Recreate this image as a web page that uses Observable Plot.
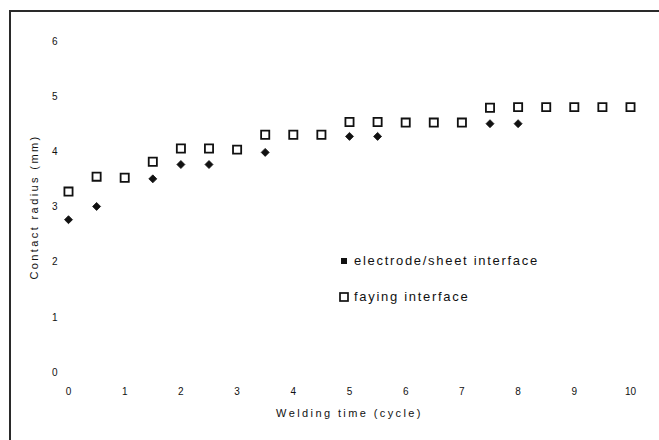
<!DOCTYPE html>
<html>
<head>
<meta charset="utf-8">
<script src="https://cdn.jsdelivr.net/npm/d3@7"></script>
<script src="https://cdn.jsdelivr.net/npm/@observablehq/plot@0.6"></script>
<style>
  html, body { margin: 0; padding: 0; background: #fff; }
  #wrap { position: relative; width: 659px; height: 440px; overflow: hidden; font-family: "Liberation Sans", Arial, sans-serif; }
  #frame { position: absolute; left: 9px; top: 10px; width: 700px; height: 500px; border-left: 2.5px solid #2a2a2a; border-top: 2.5px solid #2a2a2a; }
  #chart { position: absolute; left: 0; top: 0; }
  .leg { position: absolute; font-size: 13px; letter-spacing: 1.7px; color: #111; white-space: nowrap; }
  .leg svg { position: absolute; left: -15px; top: 3px; }
</style>
</head>
<body>
<div id="wrap">
  <div id="frame"></div>
  <div id="chart"></div>
</div>
<script>
// Welding time (cycle) for each series
const fayingTime = [0, 0.5, 1, 1.5, 2, 2.5, 3, 3.5, 4, 4.5, 5, 5.5, 6, 6.5, 7, 7.5, 8, 8.5, 9, 9.5, 10];
// Contact radius (mm), faying interface
const fayingRadius = [3.28, 3.55, 3.53, 3.82, 4.06, 4.06, 4.04, 4.31, 4.31, 4.31, 4.54, 4.54, 4.53, 4.53, 4.53, 4.8, 4.81, 4.81, 4.81, 4.81, 4.81];
const electrodeTime = [0, 0.5, 1.5, 2, 2.5, 3.5, 5, 5.5, 7.5, 8];
// Contact radius (mm), electrode/sheet interface
const electrodeRadius = [2.77, 3.01, 3.51, 3.77, 3.77, 3.99, 4.28, 4.28, 4.51, 4.51];
const xTicks = [0, 1, 2, 3, 4, 5, 6, 7, 8, 9, 10];
const yTicks = [0, 1, 2, 3, 4, 5, 6];
const xLabel = "Welding time (cycle)";
const yLabel = "Contact radius (mm)";
const legendLabels = ["electrode/sheet interface", "faying interface"];

const faying = fayingTime.map((t, i) => ({t, r: fayingRadius[i]}));
const electrode = electrodeTime.map((t, i) => ({t, r: electrodeRadius[i]}));

const chart = Plot.plot({
  width: 659,
  height: 440,
  marginLeft: 68,
  marginRight: 29,
  marginTop: 41,
  marginBottom: 68,
  style: {fontFamily: "'Liberation Sans', Arial, sans-serif", fontSize: "10px", background: "transparent", color: "#111"},
  x: {domain: [0, 10]},
  y: {domain: [0, 6]},
  marks: [
    Plot.axisX({ticks: xTicks, tickFormat: "d", tickSize: 0, tickPadding: 15, label: xLabel, labelAnchor: "center", labelArrow: "none", labelOffset: 44}),
    Plot.axisY({ticks: yTicks, tickFormat: "d", tickSize: 0, tickPadding: 11, label: yLabel, labelAnchor: "center", labelArrow: "none", labelOffset: 38}),
    Plot.dot(faying, {x: "t", y: "r", symbol: "square", r: 4.6, stroke: "#111", strokeWidth: 1.8, fill: "white"}),
    Plot.dot(electrode, {x: "t", y: "r", symbol: "diamond2", r: 3.6, fill: "#111", stroke: "#111", strokeWidth: 0.8})
  ]
});
document.getElementById("chart").appendChild(chart);
d3.select(chart).selectAll('[aria-label="x-axis label"] text, [aria-label="y-axis label"] text')
  .style("font-size", "11px").style("letter-spacing", "2.4px");

// legend
const wrap = document.getElementById("wrap");
const items = [
  {label: legendLabels[0], top: 253, sym: '<svg width="10" height="10"><rect x="2" y="2" width="6" height="6" fill="#111"/></svg>'},
  {label: legendLabels[1], top: 289, sym: '<svg width="10" height="10"><rect x="1" y="1" width="8" height="8" fill="none" stroke="#111" stroke-width="1.7"/></svg>'}
];
items.forEach(it => {
  const d = document.createElement("div");
  d.className = "leg";
  d.style.left = "354px";
  d.style.top = it.top + "px";
  d.innerHTML = it.sym + it.label;
  wrap.appendChild(d);
});
</script>
</body>
</html>
